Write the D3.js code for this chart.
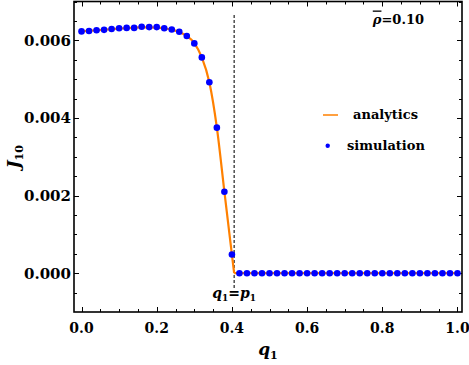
<!DOCTYPE html>
<html>
<head>
<meta charset="utf-8">
<script src="https://cdn.jsdelivr.net/npm/d3@7"></script>
<style>
  body { margin: 0; background: #fff; }
  svg { display: block; }
  text { font-family: "DejaVu Serif", serif; font-weight: bold; fill: #000; }
</style>
</head>
<body>
<script>
var w = 469;
var h = 365;
var margin = {top: 1.5, right: 7, bottom: 53, left: 74};

// simulation points (q1, J10)
var qSim = [0.00, 0.02, 0.04, 0.06, 0.08, 0.10, 0.12, 0.14, 0.16, 0.18,
            0.20, 0.22, 0.24, 0.26, 0.28, 0.30, 0.32, 0.34, 0.36, 0.38,
            0.40, 0.42, 0.44, 0.46, 0.48, 0.50, 0.52, 0.54, 0.56, 0.58,
            0.60, 0.62, 0.64, 0.66, 0.68, 0.70, 0.72, 0.74, 0.76, 0.78,
            0.80, 0.82, 0.84, 0.86, 0.88, 0.90, 0.92, 0.94, 0.96, 0.98, 1.00];
var jSim = [0.00623, 0.00624, 0.00626, 0.00627, 0.00629, 0.00631, 0.00632, 0.00632, 0.00635, 0.00634,
            0.00634, 0.00631, 0.00628, 0.00622, 0.00611, 0.00592, 0.00556, 0.00492, 0.00375, 0.00210,
            0.00048, 0, 0, 0, 0, 0, 0, 0, 0, 0,
            0, 0, 0, 0, 0, 0, 0, 0, 0, 0,
            0, 0, 0, 0, 0, 0, 0, 0, 0, 0, 0];

// analytic curve
var qAna = [0.00, 0.02, 0.04, 0.06, 0.08, 0.10, 0.12, 0.14, 0.16, 0.18,
            0.20, 0.22, 0.24, 0.26, 0.28, 0.30, 0.32, 0.34, 0.36, 0.38,
            0.40, 0.406];
var jAna = [0.006235, 0.006245, 0.006258, 0.006272, 0.006287, 0.006302, 0.006315, 0.006326, 0.006333, 0.006335,
            0.006328, 0.00631, 0.006275, 0.006215, 0.00611, 0.00593, 0.00556, 0.00492, 0.00375, 0.00210,
            0.00048, 0];
var qFlat = [0.406, 1.0];
var jFlat = [0, 0];

var pCrit = 0.406;

var xTicks = [0.0, 0.2, 0.4, 0.6, 0.8, 1.0];
var yTicks = [0.000, 0.002, 0.004, 0.006];

var orange = "#ff8000";
var blue = "#0000ff";

var x = d3.scaleLinear().domain([-0.02, 1.012]).range([margin.left, w - margin.right]);
var y = d3.scaleLinear().domain([-0.001, 0.007]).range([h - margin.bottom, margin.top]);

var svg = d3.select("body").append("svg")
  .attr("width", w)
  .attr("height", h);

var x0 = x.range()[0], x1 = x.range()[1];
var y0 = y.range()[0], y1 = y.range()[1];

// ticks (inward, all four sides)
var xMinor = d3.range(0, 1.0001, 0.05);
var yMinor = d3.range(-0.0005, 0.00701, 0.0005);
var isMajX = (v) => xTicks.some((t) => Math.abs(t - v) < 1e-6);
var isMajY = (v) => yTicks.some((t) => Math.abs(t - v) < 1e-9);

var ticks = svg.append("g").attr("stroke", "#000").attr("stroke-width", 1);
xMinor.forEach((v) => {
  var len = isMajX(v) ? 5 : 3;
  var px = Math.round(x(v)) + 0.5;
  ticks.append("line").attr("x1", px).attr("x2", px).attr("y1", y0).attr("y2", y0 - len);
  ticks.append("line").attr("x1", px).attr("x2", px).attr("y1", y1).attr("y2", y1 + len);
});
yMinor.forEach((v) => {
  var len = isMajY(v) ? 5 : 3;
  var py = Math.round(y(v)) + 0.5;
  ticks.append("line").attr("y1", py).attr("y2", py).attr("x1", x0).attr("x2", x0 + len);
  ticks.append("line").attr("y1", py).attr("y2", py).attr("x1", x1).attr("x2", x1 - len);
});

// frame
svg.append("rect")
  .attr("x", x0).attr("y", y1)
  .attr("width", x1 - x0).attr("height", y0 - y1)
  .attr("fill", "none").attr("stroke", "#000").attr("stroke-width", 1.6);

// tick labels
svg.append("g").selectAll("text")
  .data(xTicks).enter().append("text")
  .attr("x", (d) => x(d))
  .attr("y", 332.5)
  .attr("text-anchor", "middle")
  .style("font-size", "14px")
  .text((d) => d.toFixed(1));

svg.append("g").selectAll("text")
  .data(yTicks).enter().append("text")
  .attr("x", x0 - 3)
  .attr("y", (d) => y(d))
  .attr("dy", "0.36em")
  .attr("text-anchor", "end")
  .style("font-size", "15px")
  .text((d) => d.toFixed(3));

// critical line
svg.append("line")
  .attr("x1", x(pCrit)).attr("x2", x(pCrit))
  .attr("y1", 15).attr("y2", 288)
  .attr("stroke", "#333").attr("stroke-width", 1.3)
  .attr("stroke-dasharray", "3,2");

// analytics
var line = d3.line()
  .x((d) => x(d[0]))
  .y((d) => y(d[1]))
  .curve(d3.curveMonotoneX);

svg.append("path")
  .datum(d3.zip(qAna, jAna))
  .attr("d", line)
  .attr("fill", "none").attr("stroke", orange).attr("stroke-width", 2.2);

svg.append("path")
  .datum(d3.zip(qFlat, jFlat))
  .attr("d", d3.line().x((d) => x(d[0])).y((d) => y(d[1])))
  .attr("fill", "none").attr("stroke", orange).attr("stroke-width", 2.2);

// simulation
svg.append("g").selectAll("circle")
  .data(d3.zip(qSim, jSim)).enter().append("circle")
  .attr("cx", (d) => x(d[0]))
  .attr("cy", (d) => y(d[1]))
  .attr("r", 3.3)
  .attr("fill", blue);

// legend
svg.append("line")
  .attr("x1", 323).attr("x2", 338).attr("y1", 115).attr("y2", 115)
  .attr("stroke", orange).attr("stroke-width", 1.5);
svg.append("text").attr("x", 353).attr("y", 118.5)
  .style("font-size", "13px").text("analytics");
svg.append("circle").attr("cx", 327.7).attr("cy", 145.7).attr("r", 2.2).attr("fill", blue);
svg.append("text").attr("x", 347).attr("y", 149.5)
  .style("font-size", "13px").text("simulation");

// rho label
var rho = svg.append("text").attr("x", 424).attr("y", 23.5)
  .attr("text-anchor", "end").style("font-size", "13px");
rho.append("tspan").style("font-style", "italic").style("text-decoration", "overline").text("ρ");
rho.append("tspan").text("=0.10");

// q1 = p1 label
var qp = svg.append("text").attr("x", x(pCrit)).attr("y", 298)
  .attr("text-anchor", "middle").style("font-size", "14px");
qp.append("tspan").style("font-style", "italic").text("q");
qp.append("tspan").attr("dy", 3).style("font-size", "9px").text("1");
qp.append("tspan").attr("dy", -3).text("=");
qp.append("tspan").style("font-style", "italic").text("p");
qp.append("tspan").attr("dy", 3).style("font-size", "9px").text("1");

// axis titles
var xt = svg.append("text").attr("x", (x0 + x1) / 2).attr("y", 355)
  .attr("text-anchor", "middle").style("font-size", "17px");
xt.append("tspan").style("font-style", "italic").text("q");
xt.append("tspan").attr("dy", 4).style("font-size", "11px").text("1");

var yt = svg.append("text")
  .attr("transform", "translate(19," + ((y0 + y1) / 2) + ") rotate(-90)")
  .attr("text-anchor", "middle").style("font-size", "17px");
yt.append("tspan").style("font-style", "italic").text("J");
yt.append("tspan").attr("dy", 4).style("font-size", "11px").text("10");
</script>
</body>
</html>
